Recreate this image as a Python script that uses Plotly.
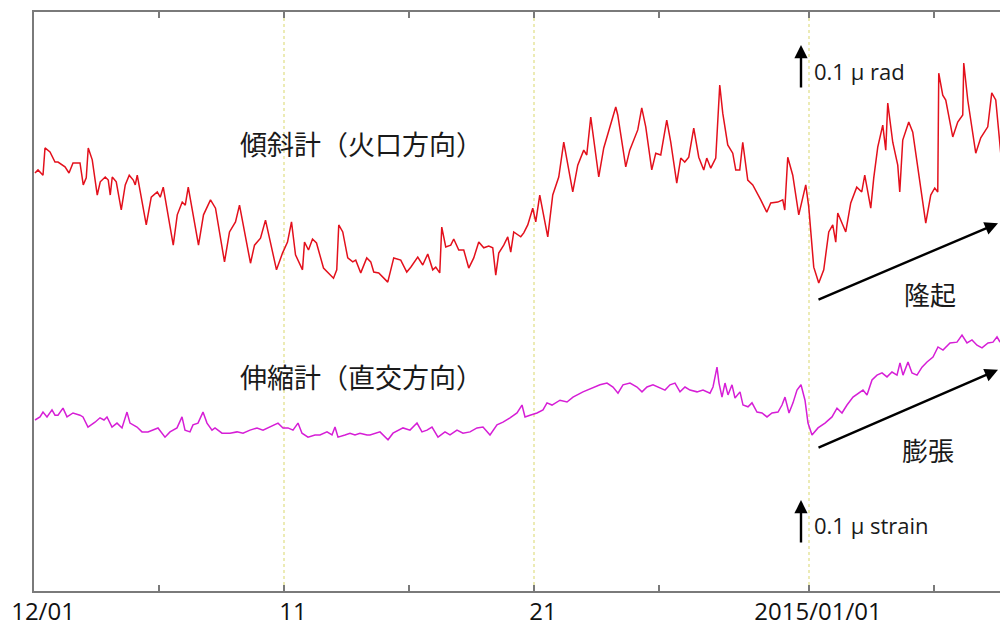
import pandas as pd
import plotly.graph_objects as go

BASE = pd.Timestamp("2014-12-01")

# Tilt meter (crater direction): days since 2014-12-01, tilt change in nrad
tilt_days = [0.04, 0.16, 0.36, 0.44, 0.64, 0.84, 0.96, 1.12, 1.24, 1.40, 1.56, 1.84, 1.97, 2.09, 2.17, 2.33,
             2.53, 2.65, 2.85, 2.97, 3.05, 3.13, 3.29, 3.49, 3.65, 3.81, 3.97, 4.05, 4.13, 4.49, 4.69, 4.93,
             5.05, 5.17, 5.57, 5.73, 5.93, 6.05, 6.17, 6.58, 6.78, 7.06, 7.26, 7.62, 7.82, 8.06, 8.22, 8.66,
             8.82, 9.06, 9.26, 9.70, 9.94, 10.14, 10.30, 10.46, 10.74, 10.82, 10.98, 11.14, 11.30, 11.58,
             11.78, 11.98, 12.11, 12.19, 12.35, 12.55, 12.75, 12.87, 13.07, 13.31, 13.47, 13.59, 13.79, 13.99,
             14.15, 14.39, 14.67, 14.91, 15.07, 15.35, 15.55, 15.75, 15.95, 16.07, 16.23, 16.31, 16.47, 16.67,
             16.79, 16.99, 17.19, 17.39, 17.59, 17.79, 17.99, 18.19, 18.35, 18.47, 18.59, 18.79, 18.95, 19.07,
             19.19, 19.47, 19.59, 19.75, 19.95, 20.07, 20.23, 20.55, 20.75, 20.99, 21.19, 21.55, 21.75, 21.99,
             22.11, 22.27, 22.59, 22.79, 23.07, 23.27, 23.35, 23.67, 23.83, 24.15, 24.31, 24.47, 24.71, 24.87,
             25.07, 25.31, 25.47, 25.71, 25.87, 26.03, 26.19, 26.39, 26.59, 26.79, 26.91, 27.07, 27.27, 27.43,
             27.55, 27.75, 27.95, 28.07, 28.23, 28.35, 28.55, 28.75, 29.07, 29.31, 29.47, 29.75, 29.95, 30.03,
             30.15, 30.35, 30.59, 30.87, 30.99, 31.19, 31.39, 31.59, 31.79, 31.95, 32.07, 32.15, 32.47, 32.67,
             32.91, 33.11, 33.23, 33.47, 33.59, 33.75, 33.95, 34.07, 34.15, 34.35, 34.55, 34.63, 34.75, 34.99,
             35.15, 35.67, 35.87, 36.03, 36.15, 36.19, 36.35, 36.47, 36.75, 36.95, 37.15, 37.19, 37.35, 37.67,
             37.87, 38.15, 38.31, 38.47, 38.67]
tilt_nrad = [0, 7, -5, 57, 48, 25, 25, 18, 14, 0, 23, 23, -27, -11, 57, 30,
             -50, -20, -9, -16, -50, -9, -20, -84, -27, -5, -16, -27, -5, -118, -55, -43,
             -55, -32, -164, -95, -66, -73, -32, -164, -95, -61, -80, -202, -134, -111, -73, -205,
             -164, -148, -107, -220, -182, -157, -111, -186, -220, -157, -175, -150, -159, -216,
             -227, -239, -220, -118, -134, -193, -202, -198, -227, -193, -202, -225, -227, -239,
             -248, -193, -198, -225, -214, -191, -209, -184, -220, -214, -227, -123, -168, -164,
             -150, -175, -175, -216, -193, -157, -170, -166, -170, -232, -182, -164, -145, -180,
             -134, -145, -136, -118, -80, -111, -50, -145, -50, -9, 70, -43, 18, 52,
             41, 127, -9, 57, 109, 150, 132, 14, 52, 98, 148, 105, 7, 45,
             41, 120, 70, -23, 34, 25, 36, 102, 36, 7, 34, 11, 34, 200,
             136, 64, 45, 7, 7, 70, -16, -27, -61, -89, -68, -66, -61, -84,
             36, -5, -95, -27, -77, -214, -250, -220, -134, -118, -157, -91, -134, -68,
             -32, -43, -5, -80, -11, 59, 109, 52, 159, 70, 18, -43, 75, 116,
             93, -114, -50, -34, -43, 227, 177, 166, 82, 116, 132, 250, 166, 45,
             80, 105, 182, 166, 45]

# Extensometer (perpendicular direction): days since 2014-12-01, strain change in nstrain
strain_days = [0.04, 0.24, 0.36, 0.52, 0.72, 0.84, 0.96, 1.16, 1.32, 1.56, 1.84, 1.96, 2.16, 2.44, 2.64, 2.80,
               2.92, 3.12, 3.32, 3.52, 3.72, 3.84, 4.12, 4.32, 4.56, 4.76, 4.96, 5.24, 5.44, 5.72, 5.92, 6.04,
               6.24, 6.36, 6.56, 6.76, 6.92, 7.12, 7.24, 7.52, 7.84, 8.12, 8.36, 8.64, 8.92, 9.16, 9.44, 9.76,
               9.96, 10.16, 10.36, 10.56, 10.72, 10.96, 11.24, 11.44, 11.72, 11.92, 12.04, 12.16, 12.44, 12.64,
               12.84, 13.04, 13.32, 13.44, 13.84, 14.16, 14.36, 14.76, 15.04, 15.32, 15.52, 15.72, 15.92, 16.16,
               16.44, 16.64, 16.92, 17.16, 17.44, 17.72, 17.96, 18.24, 18.52, 18.76, 19.04, 19.32, 19.52, 19.64,
               19.84, 20.12, 20.36, 20.52, 20.72, 21.04, 21.32, 21.56, 21.96, 22.36, 22.64, 22.92, 23.16, 23.36,
               23.56, 23.84, 24.12, 24.32, 24.52, 24.76, 25.04, 25.24, 25.44, 25.64, 25.84, 26.04, 26.24, 26.52,
               26.76, 27.04, 27.16, 27.32, 27.40, 27.52, 27.64, 27.76, 27.92, 28.04, 28.24, 28.36, 28.56, 28.72,
               28.92, 29.12, 29.32, 29.52, 29.76, 29.92, 30.04, 30.20, 30.36, 30.52, 30.68, 30.84, 30.96, 31.12,
               31.36, 31.64, 31.92, 32.12, 32.32, 32.52, 32.76, 32.96, 33.16, 33.32, 33.52, 33.72, 33.92, 34.12,
               34.32, 34.52, 34.64, 34.76, 34.96, 35.12, 35.32, 35.52, 35.72, 35.96, 36.16, 36.36, 36.64, 36.92,
               37.12, 37.32, 37.52, 37.72, 37.92, 38.16, 38.36, 38.52, 38.64]
strain_nstrain = [0, 7, 18, 7, 23, 11, 11, 27, 7, 16, 11, 7, -16, -5, 5, 0,
                  7, -16, -7, -18, 18, -7, -16, -27, -27, -23, -18, -39, -27, -18, 7, -23,
                  -27, -11, -7, 18, -7, -23, -18, -30, -30, -27, -30, -23, -18, -23, -16, -7,
                  -18, -18, -23, -7, -30, -39, -34, -34, -27, -34, -16, -39, -34, -30,
                  -34, -30, -34, -34, -27, -45, -30, -18, -23, -7, -27, -23, -16, -39,
                  -27, -34, -23, -30, -27, -18, -16, -34, -11, -5, 5, 16, 34, 7,
                  11, 16, 23, 39, 34, 45, 41, 52, 64, 73, 80, 84, 75, 61,
                  80, 84, 75, 64, 75, 80, 73, 68, 80, 84, 64, 75, 68, 64,
                  68, 61, 75, 120, 84, 52, 84, 57, 80, 50, 64, 34, 30, 39,
                  18, 16, 7, 16, 18, 34, 52, 16, 39, 68, 80, 45, -7, -34,
                  -18, -7, 7, 27, 16, 34, 52, 61, 68, 57, 91, 102, 107, 98,
                  109, 102, 130, 102, 132, 107, 102, 120, 132, 143, 166, 159, 175, 177,
                  193, 175, 182, 170, 164, 175, 177, 189, 177]

tick_dates = ["2014-12-01", "2014-12-06", "2014-12-11", "2014-12-16", "2014-12-21",
              "2014-12-26", "2015-01-01", "2015-01-06"]
tick_labels = ["12/01", "", "11", "", "21", "", "2015/01/01", ""]
guide_dates = ["2014-12-11", "2014-12-21", "2015-01-01"]

label_tilt = "傾斜計（火口方向）"
label_strain = "伸縮計（直交方向）"

def to_time(days):
    return [BASE + pd.Timedelta(days=d) for d in days]

fig = go.Figure()
fig.add_trace(go.Scatter(x=to_time(tilt_days), y=tilt_nrad, mode="lines",
                         line=dict(color="#e3101c", width=1.5), yaxis="y", name=label_tilt,
                         showlegend=False))
fig.add_trace(go.Scatter(x=to_time(strain_days), y=strain_nstrain, mode="lines",
                         line=dict(color="#d61ed6", width=1.5), yaxis="y2", name=label_strain,
                         showlegend=False))

for g in guide_dates:
    fig.add_shape(type="line", xref="x", yref="paper", x0=g, x1=g, y0=0, y1=1,
                  line=dict(color="#ecebb5", width=2, dash="dot"), layer="below")

def T(d):
    return BASE + pd.Timedelta(days=d)

ann = []
txt = dict(color="#1a1a1a")
cjk = "Noto Sans CJK JP"
ann.append(dict(x=T(13.08), y=68, xref="x", yref="y", text=label_tilt, showarrow=False,
                font=dict(size=27, family=cjk, **txt)))
ann.append(dict(x=T(13.08), y=98, xref="x", yref="y2", text=label_strain, showarrow=False,
                font=dict(size=27, family=cjk, **txt)))
ann.append(dict(x=T(35.84), y=-273, xref="x", yref="y", text="隆起", showarrow=False,
                font=dict(size=26, family=cjk, **txt)))
ann.append(dict(x=T(35.76), y=-66, xref="x", yref="y2", text="膨張", showarrow=False,
                font=dict(size=26, family=cjk, **txt)))
# trend arrows
ann.append(dict(x=T(38.56), y=-114, xref="x", yref="y", ax=T(31.32), ay=-289, axref="x", ayref="y",
                text="", showarrow=True, arrowhead=2, arrowsize=1.1, arrowwidth=2.4, arrowcolor="black"))
ann.append(dict(x=T(38.56), y=114, xref="x", yref="y2", ax=T(31.32), ay=-64, axref="x", ayref="y2",
                text="", showarrow=True, arrowhead=2, arrowsize=1.1, arrowwidth=2.4, arrowcolor="black"))
# scale arrows (0.1 unit each)
ann.append(dict(x=T(30.68), y=291, xref="x", yref="y", ax=T(30.68), ay=191, axref="x", ayref="y",
                text="", showarrow=True, arrowhead=2, arrowsize=1.1, arrowwidth=2.4, arrowcolor="black"))
ann.append(dict(x=T(30.68), y=-182, xref="x", yref="y2", ax=T(30.68), ay=-282, axref="x", ayref="y2",
                text="", showarrow=True, arrowhead=2, arrowsize=1.1, arrowwidth=2.4, arrowcolor="black"))
ann.append(dict(x=T(31.12), y=232, xref="x", yref="y", text="0.1 μ rad", showarrow=False, xanchor="left",
                font=dict(size=22, family="Open Sans", **txt)))
ann.append(dict(x=T(31.12), y=-239, xref="x", yref="y2", text="0.1 μ strain", showarrow=False, xanchor="left",
                font=dict(size=22, family="Open Sans", **txt)))

fig.update_layout(
    width=1000, height=626,
    margin=dict(l=34, r=0, t=12, b=35, autoexpand=False),
    paper_bgcolor="white", plot_bgcolor="white",
    annotations=ann,
    xaxis=dict(range=[BASE, T(38.64)], tickvals=tick_dates, ticktext=tick_labels, automargin=False,
               showgrid=False, zeroline=False, showline=True, linecolor="#7a7a7a", linewidth=1.5,
               mirror="ticks", ticks="inside", ticklen=6, tickwidth=1.5, tickcolor="#7a7a7a",
               tickfont=dict(size=24, family="Open Sans", color="#111"), ticklabelshift=9,
               ticklabelstandoff=-2),
    yaxis=dict(range=[-950, 366], visible=True, showticklabels=False, ticks="", showgrid=False,
               automargin=False, zeroline=False, showline=True, linecolor="#7a7a7a", linewidth=1.5),
    yaxis2=dict(range=[-388.6, 927.3], overlaying="y", visible=False),
)

fig.write_html("out.html", config={"displayModeBar": False},
               post_script="document.body.style.margin='0';document.body.style.overflow='hidden';")
